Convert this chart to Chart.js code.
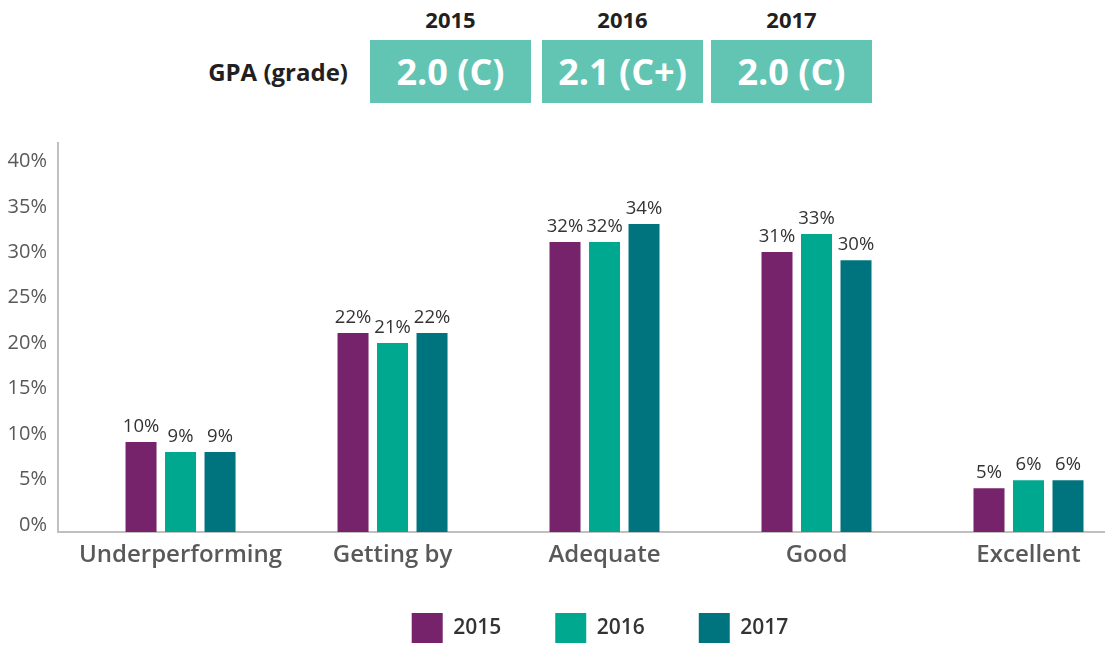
<!DOCTYPE html>
<html>
<head>
<meta charset="utf-8">
<script src="https://cdn.jsdelivr.net/npm/chart.js@4.4.1/dist/chart.umd.min.js"></script>
<style>
  html, body { margin: 0; padding: 0; background: #fff; overflow: hidden; width: 1105px; height: 646px; }
  body { position: relative; font-family: "Open Sans", sans-serif; }
  #gradeChart { position: absolute; left: 0; top: 0; }
  .year { position: absolute; top: 4px; width: 161px; text-align: center; font-weight: 700; font-size: 22px; color: #231f20; }
  .gpa { position: absolute; top: 40px; width: 161px; height: 63px; line-height: 63px; background: #62c4b2; color: #fff; text-align: center; font-weight: 700; font-size: 36px; }
  #gpaLabel { position: absolute; top: 55px; right: 757px; font-weight: 700; font-size: 24px; color: #231f20; }
</style>
</head>
<body>
<div id="gpaLabel">GPA (grade)</div>
<div id="header"></div>
<canvas id="gradeChart" width="1200" height="664"></canvas>
<script>
// categories and series
const categories = ["Underperforming", "Getting by", "Adequate", "Good", "Excellent"];
const years = ["2015", "2016", "2017"];
const gpaText = ["2.0 (C)", "2.1 (C+)", "2.0 (C)"];
const values2015 = [9.9, 21.9, 31.9, 30.8, 4.8];
const values2016 = [8.8, 20.8, 31.9, 32.8, 5.7];
const values2017 = [8.8, 21.9, 33.9, 29.9, 5.7];
const yTicks = [0, 5, 10, 15, 20, 25, 30, 35, 40];

const colors = ["#76236b", "#00a88f", "#00747e"];

// GPA header boxes
const boxLeft = [370, 542, 711];
years.forEach((y, i) => {
    document.getElementById("header").insertAdjacentHTML("beforeend",
        `<div class="year" style="left:${boxLeft[i]}px">${y}</div>` +
        `<div class="gpa" style="left:${boxLeft[i]}px">${gpaText[i]}</div>`);
});

// value labels above bars
const barLabels = {
    id: "barLabels",
    afterDatasetsDraw(chart) {
        const ctx = chart.ctx;
        ctx.save();
        ctx.font = "18.5px 'Open Sans'";
        ctx.fillStyle = "#333333";
        ctx.textAlign = "center";
        ctx.textBaseline = "alphabetic";
        chart.data.datasets.forEach((ds, di) => {
            chart.getDatasetMeta(di).data.forEach((bar, i) => {
                ctx.fillText(Math.round(ds.data[i].y) + "%", bar.x, bar.y - 10);
            });
        });
        ctx.restore();
    }
};

// pull the legend a bit closer to the axis labels
const legendShift = {
    id: "legendShift",
    afterLayout(chart) {
        chart.legend.top -= 11;
        chart.legend.bottom -= 11;
    }
};

const toPoints = arr => arr.map((v, i) => ({ x: i, y: v }));

var ctx = document.getElementById("gradeChart").getContext("2d");
new Chart(ctx, {
    type: "bar",
    data: {
        datasets: [
            { label: years[0], data: toPoints(values2015), backgroundColor: colors[0] },
            { label: years[1], data: toPoints(values2016), backgroundColor: colors[1] },
            { label: years[2], data: toPoints(values2017), backgroundColor: colors[2] }
        ]
    },
    options: {
        responsive: false,
        animation: false,
        categoryPercentage: 0.559,
        barPercentage: 0.785,
        layout: { padding: { top: 143, left: 0, right: 0, bottom: 0 } },
        plugins: {
            tooltip: { enabled: false },
            legend: {
                position: "bottom",
                labels: {
                    boxWidth: 31,
                    boxHeight: 30,
                    padding: 54,
                    color: "#333333",
                    font: { family: "Open Sans", size: 21, weight: "600" }
                }
            }
        },
        scales: {
            x: {
                type: "linear",
                offset: false,
                min: -0.578,
                max: 4.809,
                afterFit: s => { s.height = 38; },
                afterBuildTicks: s => { s.ticks = categories.map((c, i) => ({ value: i })); },
                grid: { display: false, drawTicks: false, offset: false },
                border: { display: true, color: "#c0c0c0", width: 2 },
                ticks: {
                    autoSkip: false,
                    maxRotation: 0,
                    padding: 9,
                    color: "#595959",
                    font: { family: "Open Sans", size: 24, weight: "600" },
                    callback: v => categories[v]
                }
            },
            y: {
                min: 0,
                max: 42.8,
                afterFit: s => { s.width = 58; },
                afterBuildTicks: s => { s.ticks = yTicks.map(v => ({ value: v })); },
                grid: { display: false, drawTicks: false },
                border: { display: true, color: "#c0c0c0", width: 2 },
                ticks: {
                    padding: 11,
                    labelOffset: -7,
                    color: "#595959",
                    font: { family: "Open Sans", size: 20 },
                    callback: v => v + "%"
                }
            }
        }
    },
    plugins: [barLabels, legendShift]
});
</script>
</body>
</html>
